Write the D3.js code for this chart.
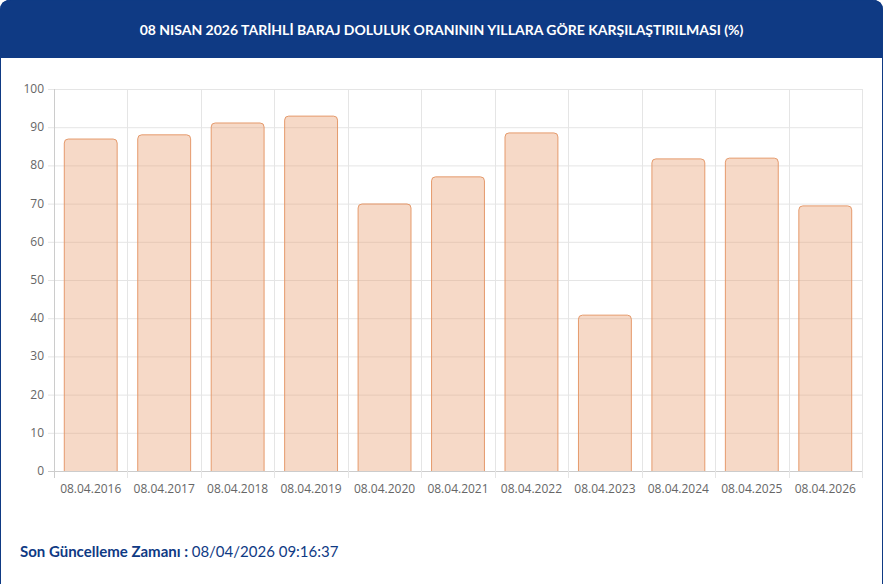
<!DOCTYPE html><html><head><meta charset="utf-8"><script src="https://cdn.jsdelivr.net/npm/d3@7"></script>
<style>body{margin:0;background:#fff;font-family:"Open Sans",sans-serif}</style></head><body><div id="c"></div><script>
const categories=["08.04.2016","08.04.2017","08.04.2018","08.04.2019","08.04.2020","08.04.2021","08.04.2022","08.04.2023","08.04.2024","08.04.2025","08.04.2026"];
const values=[86.9,88.0,91.1,92.9,69.9,77.0,88.5,40.8,81.7,81.9,69.4];
const yTicks=[0,10,20,30,40,50,60,70,80,90,100];
const W=883,H=584,L=54,R=862,T=89,B=471;
const svg=d3.select("#c").append("svg").attr("width",W).attr("height",H);
svg.append("path").attr("d","M0,58 V10 Q0,0 10,0 H873 Q883,0 883,10 V58 Z").attr("fill","#0f3a84");
svg.append("rect").attr("x",0.5).attr("y",0).attr("width",W-1).attr("height",H+10).attr("rx",10).attr("fill","none").attr("stroke","#0f3a84").attr("stroke-width",1);
svg.append("text").attr("x",W/2+0).attr("y",35).attr("text-anchor","middle").attr("fill","#fff").attr("font-family","Lato, sans-serif").attr("font-weight",700).attr("font-size",14).text("08 NISAN 2026 TARİHLİ BARAJ DOLULUK ORANININ YILLARA GÖRE KARŞILAŞTIRILMASI (%)");
const x=d3.scaleBand().domain(categories).range([L,R]);
const y=d3.scaleLinear().domain([0,100]).range([B,T]);
const g=svg.append("g");
yTicks.forEach(t=>{g.append("line").attr("x1",L-6).attr("x2",R).attr("y1",y(t)+0.5).attr("y2",y(t)+0.5).attr("stroke",t===0?"#ccc":"#e5e5e5");
g.append("text").attr("x",L-10).attr("y",y(t)+4).attr("text-anchor","end").attr("fill","#666").attr("font-size",12).text(t);});
categories.forEach((c,i)=>{const xx=Math.round(x(c))+0.5;g.append("line").attr("x1",xx).attr("x2",xx).attr("y1",T).attr("y2",B+7).attr("stroke",i===0?"#ccc":"#e5e5e5");
g.append("text").attr("x",x(c)+x.bandwidth()/2).attr("y",B+22).attr("text-anchor","middle").attr("fill","#666").attr("font-size",12).text(c);});
g.append("line").attr("x1",R+0.5).attr("x2",R+0.5).attr("y1",T).attr("y2",B+7).attr("stroke","#e5e5e5");
const bw=x.bandwidth()*0.72;
g.selectAll(".b").data(values).join("path").attr("fill","rgba(232,160,115,0.4)").attr("stroke","#e59a6c").attr("stroke-width",1)
.attr("d",(v,i)=>{const x0=x(categories[i])+(x.bandwidth()-bw)/2,x1=x0+bw,y0=y(v),r=4;return `M${x0},${B} V${y0+r} Q${x0},${y0} ${x0+r},${y0} H${x1-r} Q${x1},${y0} ${x1},${y0+r} V${B}`;});
const ft=svg.append("text").attr("x",20).attr("y",557).attr("font-family","Lato, sans-serif").attr("font-size",15).attr("fill","#0f3a84");
ft.append("tspan").attr("font-weight",700).text("Son Güncelleme Zamanı : ");
ft.append("tspan").text("08/04/2026 09:16:37");
</script></body></html>
